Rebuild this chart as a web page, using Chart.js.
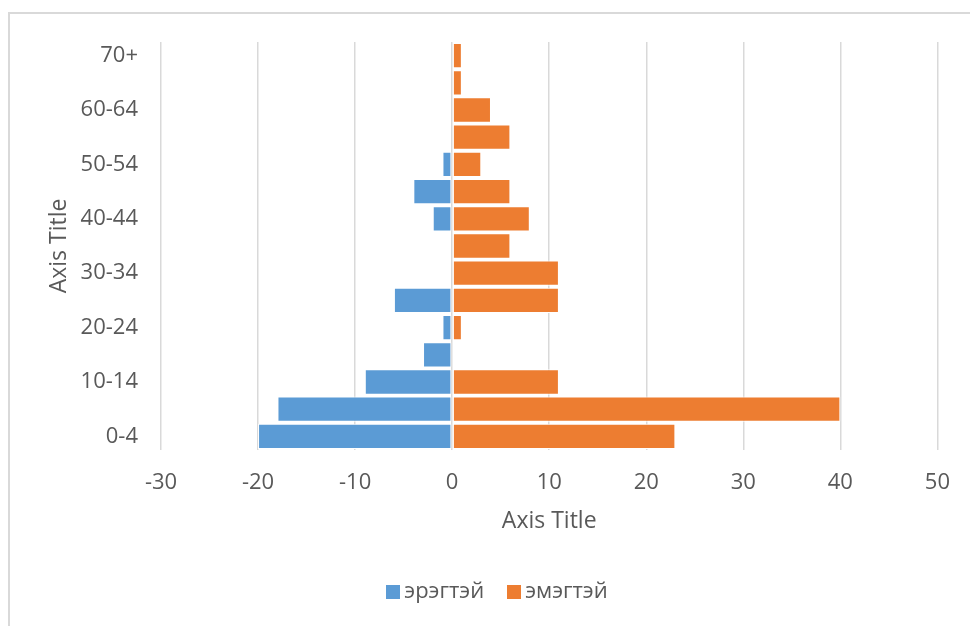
<!DOCTYPE html>
<html>
<head>
<meta charset="utf-8">
<script src="https://cdn.jsdelivr.net/npm/chart.js@4/dist/chart.umd.min.js"></script>
<style>
  html, body { margin: 0; padding: 0; background: #ffffff; overflow: hidden; }
  #frame { position: absolute; left: 8px; top: 12px; width: 1000px; height: 700px; border: 2px solid #d9d9d9; box-sizing: border-box; pointer-events: none; }
  #wrap { position: absolute; left: 0; top: 0; width: 970px; height: 626px; }
</style>
</head>
<body>
<div id="wrap"><canvas id="c" width="970" height="626"></canvas></div>
<div id="frame"></div>
<script>
const categories = ["0-4","5-9","10-14","15-19","20-24","25-29","30-34","35-39","40-44","45-49","50-54","55-59","60-64","65-69","70+"];
const male   = [-20, -18, -9, -3, -1, -6, 0, 0, -2, -4, -1, 0, 0, 0, 0];
const female = [23, 40, 11, 0, 1, 11, 11, 6, 8, 6, 3, 6, 4, 1, 1];
const seriesNames = ["эрэгтэй", "эмэгтэй"];
const seriesColors = ["#5B9BD5", "#ED7D31"];
const xTicks = { min: -30, max: 50, step: 10 };

const FONT = "'Open Sans', 'Noto Sans', sans-serif";
const TXT = "#595959";

function swatch(color) {
  const c = document.createElement('canvas');
  c.width = 14; c.height = 14;
  const g = c.getContext('2d');
  g.fillStyle = color;
  g.fillRect(0, 0, 14, 14);
  return c;
}
const swatches = seriesColors.map(swatch);

new Chart(document.getElementById('c'), {
  type: 'bar',
  data: {
    labels: categories,
    datasets: [
      { label: seriesNames[0], data: male, backgroundColor: seriesColors[0], borderColor: '#ffffff', borderWidth: 1, borderSkipped: false },
      { label: seriesNames[1], data: female, backgroundColor: seriesColors[1], borderColor: '#ffffff', borderWidth: 1, borderSkipped: false }
    ]
  },
  options: {
    indexAxis: 'y',
    responsive: false,
    animation: false,
    devicePixelRatio: 1,
    categoryPercentage: 0.93,
    barPercentage: 1,
    layout: { padding: { left: 62, top: 42, right: 32, bottom: 13 } },
    plugins: {
      legend: {
        position: 'bottom',
        labels: {
          color: TXT,
          font: { family: FONT, size: 22 },
          usePointStyle: true,
          boxWidth: 1, boxHeight: 14,
          padding: 29,
          generateLabels: (chart) => {
            const items = Chart.defaults.plugins.legend.labels.generateLabels(chart);
            items.forEach((it, i) => { it.pointStyle = swatches[i]; });
            return items;
          }
        }
      },
      tooltip: { enabled: false }
    },
    scales: {
      x: {
        stacked: true,
        min: xTicks.min, max: xTicks.max,
        ticks: { stepSize: xTicks.step, color: TXT, font: { family: FONT, size: 22 }, padding: 20 },
        grid: { color: '#d9d9d9', lineWidth: 1.5, drawTicks: false },
        border: { display: false },
        title: { display: true, text: 'Axis Title', color: TXT, font: { family: FONT, size: 23 }, padding: { top: 0, bottom: 17 } },
        afterFit: (s) => { s.height = 102; }
      },
      y: {
        stacked: true,
        reverse: true,
        ticks: {
          autoSkip: false,
          color: TXT,
          font: { family: FONT, size: 22 },
          padding: 23,
          callback: function(v, i) { return i % 2 === 0 ? this.getLabelForValue(v) : ''; }
        },
        grid: { display: false, drawTicks: false },
        border: { display: false },
        title: { display: true, text: 'Axis Title', color: TXT, font: { family: FONT, size: 23 }, padding: { top: -16, bottom: 0 } },
        afterFit: (s) => { s.width = 99; }
      }
    }
  }
});
</script>
</body>
</html>
